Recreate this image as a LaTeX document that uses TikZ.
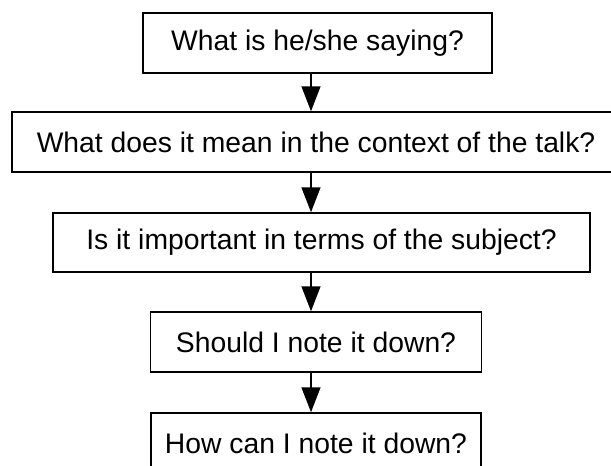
\documentclass[tikz,border=0pt]{standalone}
\usepackage{fontspec}
\setmainfont{Liberation Sans}
\usetikzlibrary{arrows.meta}
\begin{document}
\begin{tikzpicture}[x=1pt,y=-1pt,
  box/.style={draw=black,line width=1.5pt,inner sep=0pt,align=center,
    font=\fontsize{28.3}{34}\selectfont},
  arr/.style={draw=black,line width=1.5pt,-{Triangle[length=25pt,width=19pt]}}]
\useasboundingbox (0,0) rectangle (611,466);
\clip (0,0) rectangle (611,466);
\node[box,minimum width=349pt,minimum height=60pt] (b1) at (317.5,43) {What is he/she saying?};
\node[box,minimum width=608pt,minimum height=60pt] (b2) at (316,142) {What does it mean in the context of the talk?};
\node[box,minimum width=537pt,minimum height=59pt] (b3) at (321.5,242.5) {Is it important in terms of the subject?};
\node[box,minimum width=331pt,minimum height=60pt] (b4) at (316,342) {Should I note it down?};
\node[box,minimum width=330pt,minimum height=60pt] (b5) at (316,443) {How can I note it down?};
\coordinate (ax) at (311,0);
\draw[arr] (b1.south -| ax) -- (b2.north -| ax);
\draw[arr] (b2.south -| ax) -- (b3.north -| ax);
\draw[arr] (b3.south -| ax) -- (b4.north -| ax);
\draw[arr] (b4.south -| ax) -- (b5.north -| ax);
\end{tikzpicture}
\end{document}
